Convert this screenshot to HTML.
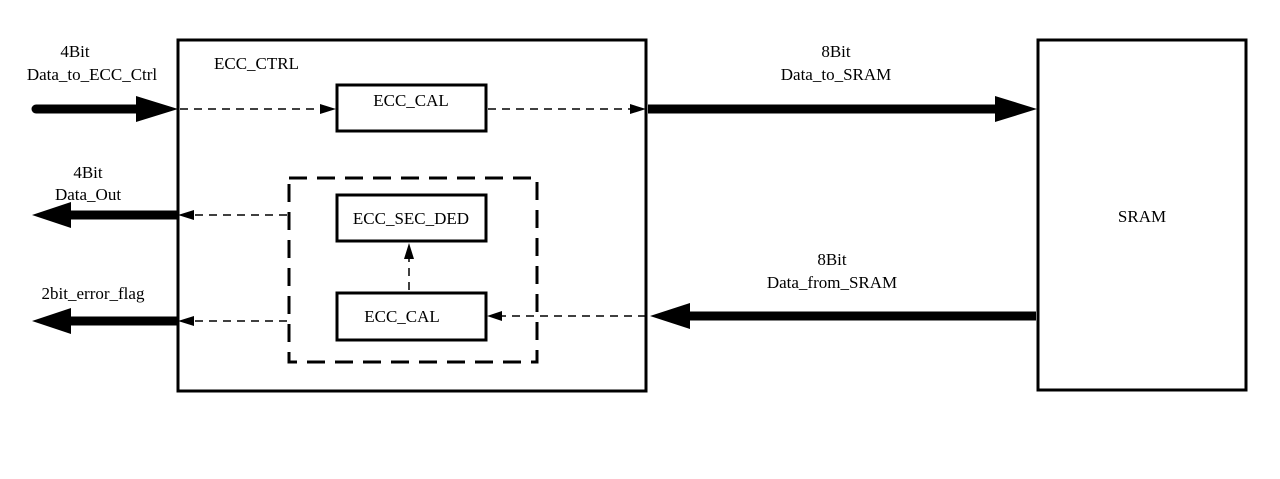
<!DOCTYPE html>
<html><head><style>body{margin:0;background:#fff}</style></head><body>
<svg width="1280" height="474" xmlns="http://www.w3.org/2000/svg" font-family="Liberation Serif, serif" font-size="17" fill="#000">
<rect x="0" y="0" width="1280" height="474" fill="#fff"/>
<g fill="none" stroke="#000">
<rect x="178" y="40" width="468" height="351" stroke-width="3"/>
<rect x="1038" y="40" width="208" height="350" stroke-width="3"/>
<rect x="337" y="85" width="149" height="46" stroke-width="3"/>
<rect x="337" y="195" width="149" height="46" stroke-width="3"/>
<rect x="337" y="293" width="149" height="47" stroke-width="3"/>
<rect x="289" y="178" width="248" height="184" stroke-width="3" stroke-dasharray="18,10"/>
<g stroke-width="1.5" stroke-dasharray="8,6">
<line x1="180" y1="109" x2="322" y2="109"/>
<line x1="488" y1="109" x2="632" y2="109"/>
<line x1="287" y1="215" x2="192" y2="215"/>
<line x1="287" y1="321" x2="192" y2="321"/>
<line x1="646" y1="316" x2="500" y2="316"/>
<line x1="409" y1="290" x2="409" y2="258"/>
</g>
<line x1="36" y1="109" x2="140" y2="109" stroke-width="9" stroke-linecap="round"/>
<line x1="70" y1="215" x2="178" y2="215" stroke-width="9"/>
<line x1="70" y1="321" x2="178" y2="321" stroke-width="9"/>
<line x1="648" y1="109" x2="996" y2="109" stroke-width="9"/>
<line x1="1036" y1="316" x2="686" y2="316" stroke-width="9"/>
</g>
<polygon points="136,96 178,109 136,122"/>
<polygon points="995,96 1037,109 995,122"/>
<polygon points="32,215 71,202 71,228"/>
<polygon points="32,321 71,308 71,334"/>
<polygon points="650,316 690,303 690,329"/>
<polygon points="320,104 336,109 320,114"/>
<polygon points="630,104 646,109 630,114"/>
<polygon points="194,210 178,215 194,220"/>
<polygon points="194,316 178,321 194,326"/>
<polygon points="502,311 487,316 502,321"/>
<polygon points="404,259 409,243 414,259"/>
<g text-anchor="middle">
<text x="75" y="57">4Bit</text>
<text x="92" y="80">Data_to_ECC_Ctrl</text>
<text x="88" y="178">4Bit</text>
<text x="88" y="200">Data_Out</text>
<text x="93" y="299">2bit_error_flag</text>
<text x="836" y="57">8Bit</text>
<text x="836" y="80">Data_to_SRAM</text>
<text x="832" y="265">8Bit</text>
<text x="832" y="288">Data_from_SRAM</text>
<text x="1142" y="222">SRAM</text>
<text x="411" y="106">ECC_CAL</text>
<text x="411" y="224">ECC_SEC_DED</text>
<text x="402" y="322">ECC_CAL</text>
</g>
<text x="214" y="69">ECC_CTRL</text>
</svg>
</body></html>
